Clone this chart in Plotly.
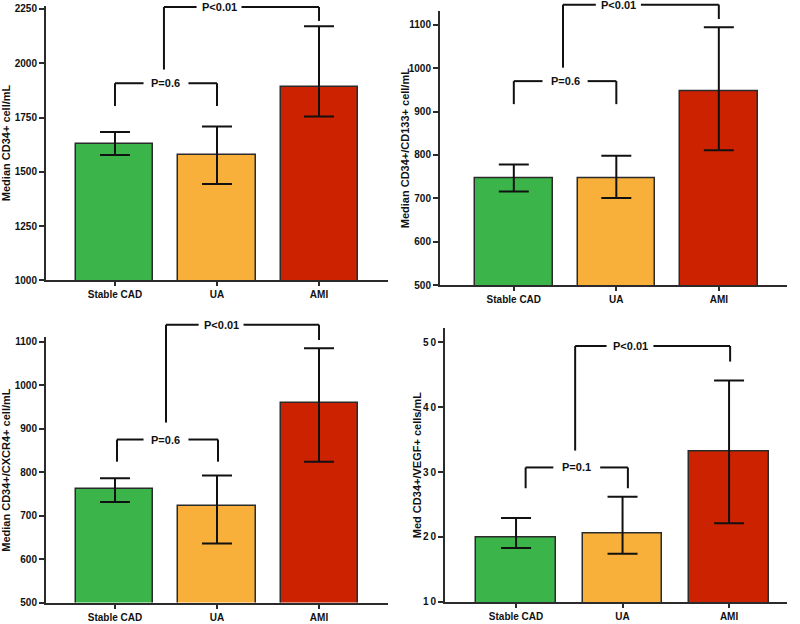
import plotly.graph_objects as go

# ---------------- data ----------------
categories = ["Stable CAD", "UA", "AMI"]
bar_colors = ["#3BB54A", "#F9B03B", "#CC2200"]

cd34_median = [1627, 1577, 1892]
cd34_upper = [1683, 1709, 2171]
cd34_lower = [1577, 1444, 1755]

cd133_median = [747, 747, 948]
cd133_upper = [778, 798, 1094]
cd133_lower = [716, 701, 811]

cxcr4_median = [761, 723, 960]
cxcr4_upper = [786, 792, 1085]
cxcr4_lower = [731, 636, 824]

vegf_median = [20.0, 20.5, 33.2]
vegf_upper = [22.9, 26.2, 44.1]
vegf_lower = [18.3, 17.4, 22.1]

y_titles = ["Median CD34+ cell/mL", "Median CD34+/CD133+ cell/mL",
            "Median CD34+/CXCR4+ cell/mL", "Med CD34+/VEGF+ cells/mL"]

tick_vals_1 = [1000, 1250, 1500, 1750, 2000, 2250]
tick_vals_2 = [500, 600, 700, 800, 900, 1000, 1100]
tick_vals_3 = [500, 600, 700, 800, 900, 1000, 1100]
tick_vals_4 = [10, 20, 30, 40, 50]
tick_text_4 = ["1\u20090", "2\u20090", "3\u20090", "4\u20090", "5\u20090"]

# significance brackets: (x_left, x_right, bar height, left leg end, right leg end, label, label x)
brackets_1 = [(0.0, 1.0, 1908, 1803, 1803, "P=0.6", 0.5),
              (0.48, 2.0, 2259, 1971, 2195, "P<0.01", 1.02)]
brackets_2 = [(0.0, 1.0, 970, 917, 917, "P=0.6", 0.5),
              (0.48, 2.0, 1146, 1001, 1113, "P<0.01", 1.02)]
brackets_3 = [(0.02, 1.01, 875, 824, 824, "P=0.6", 0.5),
              (0.5, 2.0, 1139, 914, 1104, "P<0.01", 1.04)]
brackets_4 = [(0.09, 1.05, 30.7, 27.5, 27.5, "P=0.1", 0.57),
              (0.555, 2.01, 49.4, 33.3, 47.0, "P<0.01", 1.07)]

# ---------------- layout geometry (pixels) ----------------
W, H = 800, 624
FONT = "Liberation Sans, Arial, sans-serif"
DARK = "#2b2b2b"

panels = [
    dict(med=cd34_median, up=cd34_upper, lo=cd34_lower, px=(46, 388), py=(4, 282),
         yr=(1000, 2264), xr=(-0.676, 2.676), tv=tick_vals_1, tt=None, br=brackets_1,
         title=y_titles[0], tx=6, bw=0.755),
    dict(med=cd133_median, up=cd133_upper, lo=cd133_lower, px=(440, 787), py=(9.3, 287),
         yr=(500, 1131), xr=(-0.72, 2.665), tv=tick_vals_2, tt=None, br=brackets_2,
         title=y_titles[1], tx=405, bw=0.755),
    dict(med=cxcr4_median, up=cxcr4_upper, lo=cxcr4_lower, px=(46, 388), py=(339.3, 608.3),
         yr=(500, 1111), xr=(-0.676, 2.676), tv=tick_vals_3, tt=None, br=brackets_3,
         title=y_titles[2], tx=6, bw=0.755),
    dict(med=vegf_median, up=vegf_upper, lo=vegf_lower, px=(445, 787), py=(330.7, 607.7),
         yr=(10, 52.1), xr=(-0.667, 2.544), tv=tick_vals_4, tt=tick_text_4, br=brackets_4,
         title=y_titles[3], tx=417, bw=0.75),
]

fig = go.Figure()
shapes = []
annotations = []

for i, p in enumerate(panels, start=1):
    xa = "x" if i == 1 else f"x{i}"
    ya = "y" if i == 1 else f"y{i}"
    xdom = [p["px"][0] / W, p["px"][1] / W]
    ydom = [1 - p["py"][1] / H, 1 - p["py"][0] / H]

    fig.add_trace(go.Bar(
        x=list(range(len(categories))), y=p["med"],
        width=p["bw"],
        marker=dict(color=bar_colors, line=dict(color=DARK, width=1.5)),
        error_y=dict(type="data", symmetric=False,
                     array=[u - m for u, m in zip(p["up"], p["med"])],
                     arrayminus=[m - l for m, l in zip(p["med"], p["lo"])],
                     color="#111111", thickness=2, width=15),
        xaxis=xa, yaxis=ya, showlegend=False, hoverinfo="skip",
    ))

    axis_font = dict(family=FONT, size=10, color="#111111", weight="bold")
    fig.update_layout(**{
        ("xaxis" if i == 1 else f"xaxis{i}"): dict(
            domain=xdom, range=list(p["xr"]), anchor=ya,
            tickvals=list(range(len(categories))), ticktext=categories,
            showline=True, linecolor=DARK, linewidth=2,
            ticks="outside", ticklen=4, tickwidth=1.5, tickcolor=DARK,
            showgrid=False, zeroline=False, tickfont=axis_font, fixedrange=True),
        ("yaxis" if i == 1 else f"yaxis{i}"): dict(
            domain=ydom, range=list(p["yr"]), anchor=xa,
            tickvals=p["tv"], ticktext=p["tt"] if p["tt"] else [str(v) for v in p["tv"]],
            showline=True, linecolor=DARK, linewidth=2,
            ticks="outside", ticklen=5, tickwidth=1.5, tickcolor=DARK,
            showgrid=False, zeroline=False, tickfont=axis_font, fixedrange=True),
    })

    def ypaper(v, p=p, ydom=ydom):
        r0, r1 = p["yr"]
        return ydom[0] + (v - r0) / (r1 - r0) * (ydom[1] - ydom[0])

    gap = 0.22
    for (xl, xr_, yh, yll, ylr, lab, lx) in p["br"]:
        line = dict(color="#111111", width=2)
        common = dict(type="line", xref=xa, yref="paper", line=line, layer="above")
        shapes.append(dict(x0=xl, x1=xl, y0=ypaper(yll), y1=ypaper(yh), **common))
        shapes.append(dict(x0=xr_, x1=xr_, y0=ypaper(ylr), y1=ypaper(yh), **common))
        shapes.append(dict(x0=xl, x1=lx - gap, y0=ypaper(yh), y1=ypaper(yh), **common))
        shapes.append(dict(x0=lx + gap, x1=xr_, y0=ypaper(yh), y1=ypaper(yh), **common))
        annotations.append(dict(x=lx, y=ypaper(yh), xref=xa, yref="paper", text=lab,
                                showarrow=False, xanchor="center", yanchor="middle",
                                font=dict(family=FONT, size=11, color="#111111", weight="bold")))

    annotations.append(dict(x=p["tx"] / W, y=(ydom[0] + ydom[1]) / 2, xref="paper", yref="paper",
                            text=p["title"], textangle=-90, showarrow=False,
                            xanchor="center", yanchor="middle",
                            font=dict(family=FONT, size=11, color="#111111", weight="bold")))

fig.update_layout(
    width=W, height=H,
    margin=dict(l=0, r=0, t=0, b=0),
    paper_bgcolor="white", plot_bgcolor="white",
    shapes=shapes, annotations=annotations,
    bargap=0,
)

fig.write_html("out.html", config={"displayModeBar": False},
               post_script="document.body.style.margin='0';document.body.style.overflow='hidden';")
